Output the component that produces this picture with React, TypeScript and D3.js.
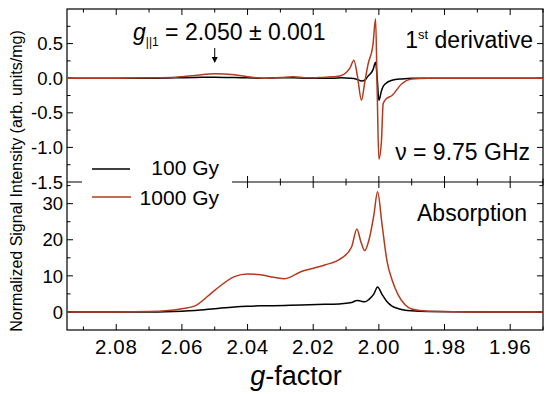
import * as d3 from 'd3';

// g-factor grid and values for the 1st derivative panel
const gDeriv = [2.095, 2.08, 2.07, 2.062, 2.056, 2.05, 2.044, 2.04, 2.035, 2.03, 2.026, 2.022, 2.018, 2.014,
  2.0114, 2.0088, 2.0076, 2.0065, 2.0053, 2.0043, 2.0033, 2.0018, 2.001, 2.0005, 2.0, 1.9992, 1.9987, 1.998,
  1.996, 1.993, 1.99, 1.985, 1.97, 1.95];
const deriv100 = [0, 0, 0, 0.005, 0.01, 0.015, 0.01, 0.005, 0, 0.005, 0.005, 0, 0, 0,
  0.005, 0, -0.005, -0.02, -0.04, -0.03, 0.03, 0.12, 0.23, 0.0, -0.32, -0.18, -0.12, -0.08,
  -0.03, -0.01, 0, 0, 0, 0];
const deriv1000 = [0, 0, 0.005, 0.015, 0.04, 0.065, 0.05, 0.02, 0, 0.01, 0.02, 0.005, 0.01, 0.02,
  0.04, 0.15, 0.26, 0.02, -0.32, -0.06, 0.2, 0.48, 0.86, -0.2, -1.17, -0.9, -0.37, -0.31,
  -0.25, -0.08, -0.01, 0, 0, 0];

// g-factor grid and values for the absorption panel
const gAbs = [2.095, 2.08, 2.07, 2.065, 2.06, 2.056, 2.05, 2.044, 2.04, 2.036, 2.032, 2.0287, 2.0236, 2.0165,
  2.0114, 2.0083, 2.0067, 2.0055, 2.0043, 2.003, 2.0015, 2.0004, 1.999, 1.9975, 1.996, 1.994, 1.992, 1.99,
  1.985, 1.97, 1.95];
const abs100 = [0, 0, 0, 0.05, 0.2, 0.4, 0.9, 1.4, 1.6, 1.7, 1.75, 1.8, 1.9, 2.1,
  2.3, 2.6, 3.2, 3.0, 2.8, 3.5, 5.0, 6.9, 4.8, 2.8, 1.6, 0.9, 0.5, 0.3,
  0.1, 0, 0];
const abs1000 = [0, 0, 0.1, 0.3, 0.9, 1.7, 6, 9.8, 10.5, 10.3, 9.6, 9.2, 11.2, 13,
  14.9, 18, 23, 19.5, 17, 20, 27, 33.3, 24, 14, 8.9, 4.5, 2, 0.8,
  0.2, 0, 0];

const xTicks = [2.08, 2.06, 2.04, 2.02, 2.0, 1.98, 1.96];
const topTicks = [0.5, 0.0, -0.5, -1.0, -1.5];
const bottomTicks = [0, 10, 20, 30];

const RED = '#b33a1c';
const FONT = 'Liberation Sans, Arial, sans-serif';

export default function App() {
  const left = 67, right = 543, top = 9, mid = 182, bottom = 330;
  const x = d3.scaleLinear().domain([2.095, 1.95]).range([left, right]);
  const yTop = d3.scaleLinear().domain([-1.5, 1.0]).range([mid, top]);
  const yBot = d3.scaleLinear().domain([-5, 36]).range([bottom, mid]);

  const lineTop = (vals: number[]) =>
    d3.line<number>().x((_, i) => x(gDeriv[i])).y(d => yTop(d)).curve(d3.curveMonotoneX)(vals) || '';
  const lineBot = (vals: number[]) =>
    d3.line<number>().x((_, i) => x(gAbs[i])).y(d => yBot(d)).curve(d3.curveMonotoneX)(vals) || '';

  const xMinor = d3.range(2.09, 1.949, -0.02);
  const topMinor = [0.75, 0.25, -0.25, -0.75, -1.25];
  const botMinor = [5, 15, 25, 35];

  const ticksX = (y0: number, dir: number) => (
    <g>
      {xTicks.map(t => <line key={'M' + t} x1={x(t)} x2={x(t)} y1={y0} y2={y0 + dir * 6} stroke="#000" />)}
      {xMinor.map(t => <line key={'m' + t} x1={x(t)} x2={x(t)} y1={y0} y2={y0 + dir * 3.5} stroke="#000" />)}
    </g>
  );

  const ticksY = (scale: d3.ScaleLinear<number, number>, major: number[], minor: number[]) => (
    <g>
      {major.map(t => (
        <g key={'M' + t}>
          <line x1={left} x2={left + 6} y1={scale(t)} y2={scale(t)} stroke="#000" />
          <line x1={right} x2={right - 6} y1={scale(t)} y2={scale(t)} stroke="#000" />
        </g>
      ))}
      {minor.map(t => (
        <g key={'m' + t}>
          <line x1={left} x2={left + 3.5} y1={scale(t)} y2={scale(t)} stroke="#000" />
          <line x1={right} x2={right - 3.5} y1={scale(t)} y2={scale(t)} stroke="#000" />
        </g>
      ))}
    </g>
  );

  const arrowX = x(2.05);

  return (
    <svg width={550} height={394} style={{ position: 'absolute', left: 0, top: 0 }} fontFamily={FONT}>
      <rect width={550} height={394} fill="#fff" />
      {/* frames */}
      <rect x={left} y={top} width={right - left} height={bottom - top} fill="none" stroke="#000" strokeWidth={1.2} />
      <line x1={left} x2={right} y1={mid} y2={mid} stroke="#000" strokeWidth={1.2} />
      {ticksX(top, 1)}
      {ticksX(mid, -1)}
      {ticksX(mid, 1)}
      {ticksX(bottom, -1)}
      {ticksY(yTop, topTicks.slice(0, 4), topMinor)}
      {ticksY(yBot, bottomTicks, botMinor)}

      {/* curves */}
      <path d={lineTop(deriv100)} fill="none" stroke="#000" strokeWidth={1.5} />
      <path d={lineTop(deriv1000)} fill="none" stroke={RED} strokeWidth={1.5} />
      <path d={lineBot(abs100)} fill="none" stroke="#000" strokeWidth={1.5} />
      <path d={lineBot(abs1000)} fill="none" stroke={RED} strokeWidth={1.5} />

      {/* tick labels */}
      {topTicks.map(t => (
        <text key={t} x={63} y={yTop(t)} dy="0.36em" textAnchor="end" fontSize={18.5}>
          {t.toFixed(1)}
        </text>
      ))}
      {bottomTicks.map(t => (
        <text key={t} x={63} y={yBot(t)} dy="0.36em" textAnchor="end" fontSize={18.5}>{t}</text>
      ))}
      {xTicks.map(t => (
        <text key={t} x={x(t)} y={354} textAnchor="middle" fontSize={20.5} letterSpacing={0.6}>{t.toFixed(2)}</text>
      ))}

      {/* legend */}
      <rect x={82} y={154} width={150} height={55} fill="#fff" />
      <line x1={92} x2={130} y1={169} y2={169} stroke="#000" strokeWidth={1.5} />
      <text x={219} y={175} textAnchor="end" fontSize={21}>100 Gy</text>
      <line x1={92} x2={131} y1={197} y2={197} stroke={RED} strokeWidth={1.5} />
      <text x={219} y={205} textAnchor="end" fontSize={21}>1000 Gy</text>

      {/* annotations */}
      <text x={133} y={40} fontSize={23}>
        <tspan fontStyle="italic">g</tspan>
        <tspan fontSize={12} dy={6}>||1</tspan>
        <tspan dy={-6}> = 2.050 ± 0.001</tspan>
      </text>
      <line x1={arrowX} x2={arrowX} y1={48} y2={61} stroke="#000" strokeWidth={1} />
      <path d={`M${arrowX - 3},${57} L${arrowX},${63} L${arrowX + 3},${57} Z`} fill="#000" />
      <text x={533} y={48} textAnchor="end" fontSize={23}>
        1<tspan fontSize={13} dy={-9}>st</tspan><tspan dy={9}> derivative</tspan>
      </text>
      <text x={530} y={160} textAnchor="end" fontSize={23}>ν = 9.75 GHz</text>
      <text x={527} y={221} textAnchor="end" fontSize={23}>Absorption</text>

      {/* axis titles */}
      <text transform="translate(22,181) rotate(-90)" textAnchor="middle" fontSize={16}>
        Normalized Signal Intensity (arb. units/mg)
      </text>
      <text x={296} y={385} textAnchor="middle" fontSize={27}>
        <tspan fontStyle="italic">g</tspan>-factor
      </text>
    </svg>
  );
}
